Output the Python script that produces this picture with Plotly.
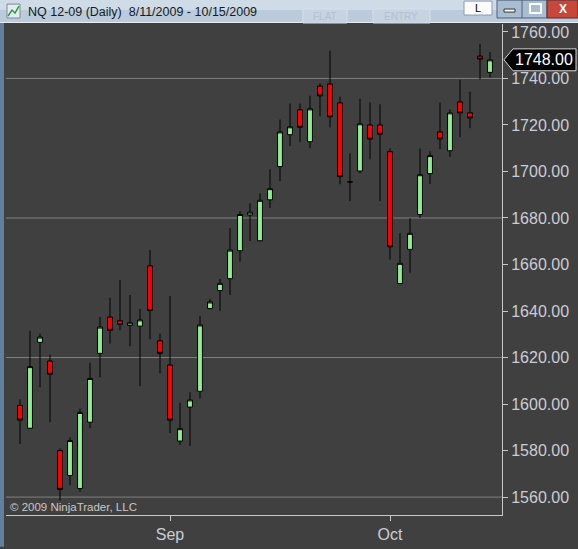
import plotly.graph_objects as go

# ---------------- data ----------------
dates = [
    "2009-08-11", "2009-08-12", "2009-08-13", "2009-08-14", "2009-08-17", "2009-08-18",
    "2009-08-19", "2009-08-20", "2009-08-21", "2009-08-24", "2009-08-25", "2009-08-26",
    "2009-08-27", "2009-08-28", "2009-08-31",
    "2009-09-01", "2009-09-02", "2009-09-03", "2009-09-04", "2009-09-07", "2009-09-08",
    "2009-09-09", "2009-09-10", "2009-09-11", "2009-09-14", "2009-09-15", "2009-09-16",
    "2009-09-17", "2009-09-18", "2009-09-21", "2009-09-22", "2009-09-23", "2009-09-24",
    "2009-09-25", "2009-09-28", "2009-09-29", "2009-09-30",
    "2009-10-01", "2009-10-02", "2009-10-05", "2009-10-06", "2009-10-07", "2009-10-08",
    "2009-10-09", "2009-10-12", "2009-10-13", "2009-10-14", "2009-10-15",
]
opens = [
    1599.4, 1589.6, 1626.5, 1618.5, 1580.0, 1569.3, 1563.7, 1592.2, 1621.8, 1637.4,
    1635.8, 1633.8, 1633.5, 1659.4, 1627.2, 1616.8, 1584.1, 1598.7, 1605.5, 1641.1,
    1648.8, 1653.9, 1665.9, 1681.3, 1670.2, 1687.8, 1702.1, 1715.8, 1726.5, 1712.8,
    1736.7, 1737.6, 1729.5, 1695.5, 1700.2, 1720.0, 1720.0, 1708.5, 1651.8, 1666.5,
    1681.5, 1699.1, 1717.0, 1708.9, 1729.9, 1725.2, 1749.6, 1742.6,
]
highs = [
    1602.0, 1631.5, 1630.2, 1621.2, 1581.0, 1585.7, 1598.1, 1617.8, 1637.5, 1645.7,
    1653.4, 1646.9, 1640.9, 1666.2, 1630.2, 1646.5, 1600.6, 1605.0, 1637.9, 1645.2,
    1653.8, 1675.6, 1682.9, 1686.3, 1690.6, 1700.9, 1722.3, 1729.2, 1729.2, 1732.6,
    1737.9, 1751.9, 1732.2, 1707.8, 1731.3, 1729.7, 1728.9, 1709.9, 1673.5, 1679.9,
    1709.9, 1708.6, 1729.6, 1726.6, 1739.4, 1734.3, 1754.9, 1751.4,
]
lows = [
    1582.8, 1589.3, 1607.2, 1592.2, 1558.6, 1565.1, 1562.3, 1589.6, 1611.5, 1626.0,
    1631.7, 1624.8, 1607.7, 1627.8, 1613.2, 1587.5, 1582.4, 1582.0, 1602.4, 1640.6,
    1640.1, 1646.9, 1661.2, 1670.1, 1670.0, 1684.3, 1695.9, 1710.9, 1712.6, 1710.0,
    1723.7, 1718.9, 1694.5, 1687.2, 1699.3, 1705.2, 1687.2, 1662.1, 1651.6, 1656.5,
    1680.0, 1694.6, 1709.6, 1706.3, 1714.7, 1718.6, 1739.6, 1740.4,
]
closes = [
    1593.1, 1616.1, 1628.8, 1612.8, 1563.3, 1584.3, 1596.4, 1611.0, 1633.1, 1631.7,
    1634.2, 1634.9, 1636.2, 1640.2, 1621.8, 1593.1, 1589.4, 1601.8, 1634.0, 1643.9,
    1651.9, 1666.2, 1681.5, 1682.5, 1687.6, 1692.6, 1717.0, 1719.2, 1719.0, 1726.9,
    1732.5, 1723.5, 1697.8, 1695.5, 1720.5, 1713.9, 1716.0, 1667.6, 1660.5, 1673.4,
    1698.6, 1706.8, 1714.0, 1725.2, 1725.2, 1723.0, 1748.3, 1748.0,
]
y_ticks = [1560, 1580, 1600, 1620, 1640, 1660, 1680, 1700, 1720, 1740, 1760]
y_tick_labels = ["1560.00", "1580.00", "1600.00", "1620.00", "1640.00", "1660.00",
                 "1680.00", "1700.00", "1720.00", "1740.00", "1760.00"]
grid_levels = [1560, 1620, 1680, 1740]
month_ticks = ["2009-09-01", "2009-10-01"]
month_labels = ["Sep", "Oct"]
last_price = closes[-1]
title_text = "NQ 12-09 (Daily)  8/11/2009 - 10/15/2009"
copyright_text = "\u00a9 2009 NinjaTrader, LLC"

# ---------------- layout geometry ----------------
W, H = 578, 549
ML, MR, MT, MB = 6, 76, 24, 32
Y_RANGE = [1552.3, 1763.4]
X_RANGE = [-1.4, 48.2]
PW, PH = W - ML - MR, H - MT - MB


def px(x):
    return (x - ML) / PW


def py(y):
    return (H - MB - y) / PH


BG = "#404040"
AXIS = "#c8c8c8"
LABEL = "#c9ced6"
FONT = "Liberation Sans"

fig = go.Figure()
fig.add_trace(go.Candlestick(
    x=dates, open=opens, high=highs, low=lows, close=closes,
    increasing=dict(fillcolor="#90EE90", line=dict(color="black", width=1)),
    decreasing=dict(fillcolor="#FF0000", line=dict(color="black", width=1)),
    whiskerwidth=0, hoverinfo="skip", showlegend=False,
))

shapes = []
for lv in grid_levels:
    shapes.append(dict(type="line", xref="paper", yref="y", x0=0, x1=1, y0=lv, y1=lv,
                       line=dict(color="#808080", width=1), layer="below"))


def rect(x0, y0, x1, y1, fill, line=None, lw=0):
    shapes.append(dict(type="rect", xref="paper", yref="paper",
                       x0=px(x0), x1=px(x1), y0=py(y1), y1=py(y0),
                       fillcolor=fill, line=dict(color=line or fill, width=lw), layer="above"))


# window title bar
rect(0, 0, W, 23, "#bccbdb")
rect(0, 0, W, 10, "#cfdbe7")
rect(0, 22, W, 23, "#e8eef4")
# faded toolbar buttons
rect(303, 9, 347, 23, "#c6d3e0", "#d6e0ea", 1)
rect(373, 9, 430, 23, "#c6d3e0", "#d6e0ea", 1)
# L button
rect(464, 1, 492, 15, "#fbfbfb", "#8a9bb0", 1)
# min / max buttons
rect(497, 0, 547, 18, "#a9bdd2", "#4f6075", 1)
shapes.append(dict(type="line", xref="paper", yref="paper", x0=px(522), x1=px(522),
                   y0=py(18), y1=py(0), line=dict(color="#4f6075", width=1)))
rect(504, 9, 515, 12, "#ffffff", "#333333", 1)
rect(530, 4, 541, 13, "#a9bdd2", "#ffffff", 2)
# close button
rect(547, 0, 578, 18, "#c9463b", "#5a2a2a", 1)
# icon
rect(7, 4, 20, 18, "#e4ecf2", "#7a8a9a", 1)
shapes.append(dict(type="path", xref="paper", yref="paper",
                   path="M %f,%f L %f,%f L %f,%f L %f,%f" % (px(8), py(16), px(12), py(10), px(15), py(13), px(19), py(6)),
                   line=dict(color="#2a9a3a", width=1.5)))
# left window frame
rect(0, 23, 4, H, "#62809e")

# last price marker
hh = 11 / (PH / (Y_RANGE[1] - Y_RANGE[0]))
shapes.append(dict(type="path", xref="paper", yref="y",
                   path="M %f,%f L %f,%f L %f,%f L %f,%f L %f,%f Z" % (
                       px(504), last_price, px(513), last_price + hh, px(576), last_price + hh,
                       px(576), last_price - hh, px(513), last_price - hh),
                   fillcolor="black", line=dict(color="#d8d8d8", width=1), layer="above"))

annotations = [
    dict(text=str("%.2f" % last_price), xref="paper", yref="y", x=px(544), y=last_price,
         xanchor="center", yanchor="middle", showarrow=False,
         font=dict(family=FONT, size=16, color="white")),
    dict(text=title_text, xref="paper", yref="paper", x=px(26), y=py(11.5),
         xanchor="left", yanchor="middle", showarrow=False,
         font=dict(family=FONT, size=12.5, color="#151a22")),
    dict(text="L", xref="paper", yref="paper", x=px(478), y=py(8),
         xanchor="center", yanchor="middle", showarrow=False,
         font=dict(family=FONT, size=11, color="black")),
    dict(text="<b>X</b>", xref="paper", yref="paper", x=px(562.5), y=py(9),
         xanchor="center", yanchor="middle", showarrow=False,
         font=dict(family=FONT, size=12, color="white")),
    dict(text="FLAT", xref="paper", yref="paper", x=px(325), y=py(16),
         xanchor="center", yanchor="middle", showarrow=False,
         font=dict(family=FONT, size=10, color="#b3c1cf")),
    dict(text="ENTRY", xref="paper", yref="paper", x=px(401), y=py(16),
         xanchor="center", yanchor="middle", showarrow=False,
         font=dict(family=FONT, size=10, color="#b3c1cf")),
    dict(text=copyright_text, xref="paper", yref="paper", x=px(8), y=py(509),
         xanchor="left", yanchor="middle", showarrow=False,
         font=dict(family=FONT, size=11.5, color="#c8c8c8")),
]

fig.update_layout(
    width=W, height=H,
    margin=dict(l=ML, r=MR, t=MT, b=MB, pad=0),
    paper_bgcolor=BG, plot_bgcolor=BG,
    showlegend=False,
    shapes=shapes, annotations=annotations,
    xaxis=dict(type="category", range=X_RANGE, rangeslider=dict(visible=False),
               showgrid=False, zeroline=False, showline=True, linecolor=AXIS, linewidth=1,
               tickmode="array", tickvals=month_ticks, ticktext=month_labels,
               ticks="outside", ticklen=5, tickcolor=AXIS,
               tickfont=dict(family=FONT, size=16, color=LABEL)),
    yaxis=dict(side="right", range=Y_RANGE, showgrid=False, zeroline=False,
               showline=True, linecolor=AXIS, linewidth=1,
               tickmode="array", tickvals=y_ticks, ticktext=y_tick_labels,
               ticks="outside", ticklen=5, tickcolor=AXIS,
               tickfont=dict(family=FONT, size=16, color=LABEL)),
)

fig.write_html(
    "out.html",
    config={"displayModeBar": False},
    post_script="document.body.style.margin='0px';document.body.style.padding='0px';"
                "document.body.style.background='" + BG + "';document.body.style.overflow='hidden';",
)
